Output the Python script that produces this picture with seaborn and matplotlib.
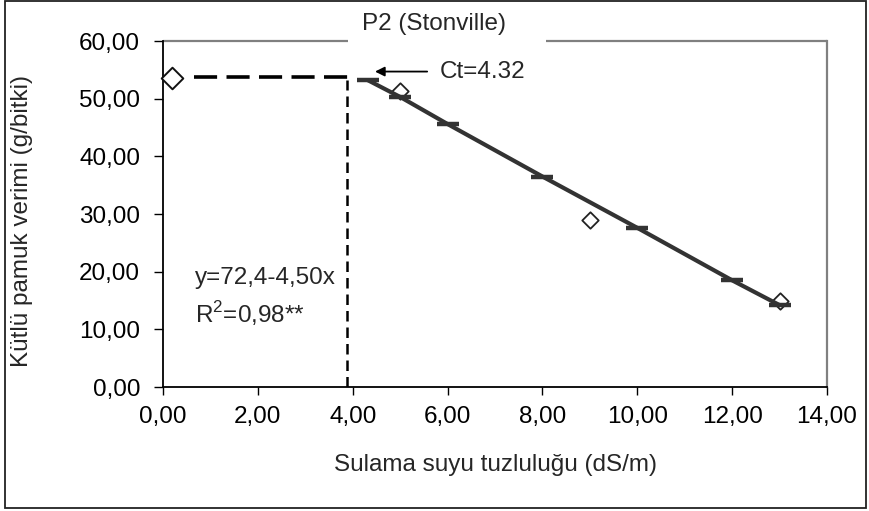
import matplotlib
matplotlib.use("Agg")
import matplotlib.pyplot as plt
import seaborn as sns
import pandas as pd
from matplotlib.patches import Rectangle

# ---------------- data ----------------
control_x = [0.2]
control_y = [53.6]
obs_x = [5, 9, 13]
obs_y = [51.3, 29.0, 15.0]
fit_x = [4.32, 5, 6, 8, 10, 12, 13]
fit_y = [53.2, 50.3, 45.6, 36.5, 27.6, 18.5, 14.2]
plateau_x = [0.65, 4.0]
plateau_y = [53.7, 53.7]
ct_line_x = [3.88, 3.88]
ct_line_y = [0.0, 53.3]
xticks = [0, 2, 4, 6, 8, 10, 12, 14]
xtick_labels = ["0,00", "2,00", "4,00", "6,00", "8,00", "10,00", "12,00", "14,00"]
yticks = [0, 10, 20, 30, 40, 50, 60]
ytick_labels = ["0,00", "10,00", "20,00", "30,00", "40,00", "50,00", "60,00"]
title = "P2 (Stonville)"
xlabel = "Sulama suyu tuzluluğu (dS/m)"
ylabel = "Kütlü pamuk verimi (g/bitki)"
eq_text = "y=72,4-4,50x"
r2_text = "R$^2$=0,98**"
ct_text = "Ct=4.32"

sns.set_style("ticks")
plt.rcParams["font.family"] = ["Liberation Sans", "DejaVu Sans"]
plt.rcParams["mathtext.fontset"] = "custom"
plt.rcParams["mathtext.rm"] = "Liberation Sans"
FS = 17.5

fig = plt.figure(figsize=(8.69, 5.11), dpi=100)
ax = fig.add_axes([163 / 869, 1 - 387 / 511, 664 / 869, 346 / 511])

obs_df = pd.DataFrame({"x": obs_x, "y": obs_y})
ctl_df = pd.DataFrame({"x": control_x, "y": control_y})
fit_df = pd.DataFrame({"x": fit_x, "y": fit_y})

sns.scatterplot(data=obs_df, x="x", y="y", marker="D", s=70, color="white",
                edgecolor="#222222", linewidth=1.3, zorder=2, ax=ax)
sns.scatterplot(data=ctl_df, x="x", y="y", marker="D", s=121, color="white",
                edgecolor="#111111", linewidth=1.4, zorder=4, ax=ax, clip_on=False)
sns.lineplot(data=fit_df, x="x", y="y", color="#333333", linewidth=3.0,
             marker="_", markersize=16, markeredgewidth=3.2,
             markeredgecolor="#333333", markerfacecolor="#333333",
             zorder=3, ax=ax)

ax.plot(plateau_x, plateau_y, color="black", linewidth=2.6,
        linestyle=(0, (6.4, 2.6)), zorder=3)
ax.plot(ct_line_x, ct_line_y, color="black", linewidth=1.8,
        linestyle=(0, (4.2, 2.4)), zorder=3)

ax.annotate("", xy=(4.47, 54.7), xytext=(5.57, 54.7),
            arrowprops=dict(arrowstyle="-|>", color="black", lw=1.3,
                            mutation_scale=14, shrinkA=0, shrinkB=0))
ax.text(5.84, 54.7, ct_text, fontsize=FS, ha="left", va="center")
ax.text(0.67, 18.9, eq_text, fontsize=FS, ha="left", va="center")
ax.text(0.67, 12.8, r2_text, fontsize=FS, ha="left", va="center")

ax.set_xlim(0, 14)
ax.set_ylim(0, 60)
ax.set_xticks(xticks)
ax.set_xticklabels(xtick_labels)
ax.set_yticks(yticks)
ax.set_yticklabels(ytick_labels)
ax.tick_params(axis="x", direction="out", length=6, width=1, pad=8,
               labelsize=FS, colors="black")
ax.tick_params(axis="y", direction="out", length=6.5, width=1, pad=10,
               labelsize=FS, colors="black")
ax.set_xlabel("")
ax.set_ylabel("")

for s in ["left", "bottom"]:
    ax.spines[s].set_color("black")
    ax.spines[s].set_linewidth(1.3)
ax.spines["right"].set_color("#808080")
ax.spines["right"].set_linewidth(1.6)
ax.spines["top"].set_visible(False)
gray = "#808080"
ax.plot([0, 0.2786], [1, 1], transform=ax.transAxes, color=gray, lw=1.6,
        clip_on=False, solid_capstyle="butt")
ax.plot([0.5768, 1.0], [1, 1], transform=ax.transAxes, color=gray, lw=1.6,
        clip_on=False, solid_capstyle="butt")

fig.text(434 / 869, 1 - 24 / 511, title, fontsize=FS, ha="center", va="center")
fig.text(496 / 869, 1 - 465 / 511, xlabel, fontsize=FS, ha="center", va="center")
fig.text(22 / 869, 1 - 221 / 511, ylabel, fontsize=FS, ha="center", va="center",
         rotation=90)

fig.patches.append(Rectangle((5 / 869, 3 / 511), 861 / 869, 507 / 511,
                             transform=fig.transFigure, fill=False,
                             edgecolor="#222222", linewidth=1.3))

fig.savefig("out.png", dpi=100)
